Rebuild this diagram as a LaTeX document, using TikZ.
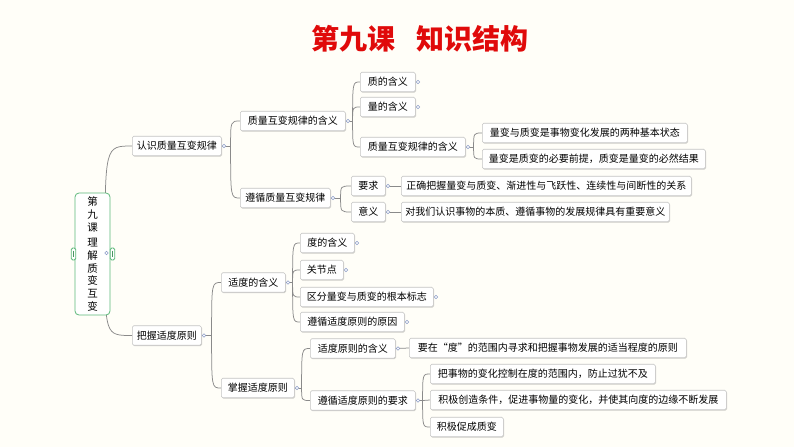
\documentclass[tikz,border=0pt]{standalone}
\usepackage{fontspec}
\setmainfont{Noto Sans CJK SC}
\usetikzlibrary{shadows}
\definecolor{bgcream}{HTML}{FFFEF8}
\definecolor{boxgray}{HTML}{C4C4C4}
\definecolor{conngray}{HTML}{8A8A8A}
\definecolor{knobblue}{HTML}{8C9CC8}
\definecolor{rootgreen}{HTML}{5DB97A}
\definecolor{titlered}{HTML}{E00A0A}
\pgfdeclarelayer{bg}
\pgfdeclarelayer{background}
\pgfsetlayers{bg,background,main}
\tikzset{
  topic/.style={draw=boxgray, line width=0.6pt, fill=white, rounded corners=1.5pt,
    minimum height=19.5pt, inner xsep=0pt, inner ysep=0pt, anchor=west,
    font=\fontsize{10}{12}\selectfont,
    drop shadow={shadow xshift=0.7pt, shadow yshift=-0.9pt, opacity=0.18, fill=black}},
  conn/.style={draw=conngray, line width=0.75pt},
  knob/.style={circle, draw=knobblue, fill=white, line width=0.6pt, inner sep=0pt, minimum size=3.6pt},
  handle/.style={draw=rootgreen, fill=white, line width=0.8pt, rounded corners=1.5pt,
    minimum width=4.5pt, minimum height=12pt, inner sep=0pt},
}
\newcommand{\kb}[1]{\node[knob] at ([xshift=2.4pt]#1.east) {};}
\newcommand{\br}[2]{\draw[conn] (#1) .. controls (#1 |- #2.west) .. (#2.west);}
\begin{document}
\begin{tikzpicture}[x=1pt, y=-1pt]
\useasboundingbox (0,0) rectangle (794,447);
\begin{pgfonlayer}{bg}
\fill[bgcream] (0,0) rectangle (794,447);
\end{pgfonlayer}

% title
\node[font=\fontsize{28}{30}\selectfont\bfseries, text=titlered] (title) at (420,39) {第九课\hspace{22pt}知识结构};

% root
\node[draw=rootgreen, line width=0.8pt, fill=white, rounded corners=4pt,
  minimum width=35pt, minimum height=122pt, inner sep=0pt, align=center,
  font=\fontsize{10.5}{12.7}\selectfont] (root) at (92.5,254)
  {第\\九\\课\\[3pt]理\\解\\质\\变\\互\\变};
\node[handle] (hl) at (73.5,254) {};
\node[handle] (hr) at (112.5,254) {};
\draw[rootgreen!80!black, line width=0.5pt] (hl.north) ++(0,3) -- ++(0,6);
\draw[rootgreen!80!black, line width=0.5pt] (hr.north) ++(0,3) -- ++(0,6);
\node[knob] (rk) at (106.5,253) {};

% level 1
\node[topic, minimum width=89pt] (A1) at (132,146) {认识质量互变规律};
\node[topic, minimum width=69pt] (A2) at (132,335.5) {把握适度原则};

% level 2
\node[topic, minimum width=105pt] (B1) at (240,121) {质量互变规律的含义};
\node[topic, minimum width=90pt] (B2) at (240,198) {遵循质量互变规律};
\node[topic, minimum width=64pt] (B3) at (221,282.5) {适度的含义};
\node[topic, minimum width=73pt] (B4) at (221,388) {掌握适度原则};

% level 3
\node[topic, minimum width=55pt] (C1) at (360,82) {质的含义};
\node[topic, minimum width=55pt] (C2) at (360,107) {量的含义};
\node[topic, minimum width=105pt] (C3) at (360,147) {质量互变规律的含义};
\node[topic, minimum width=34pt] (C4) at (351,186) {要求};
\node[topic, minimum width=34pt] (C5) at (351,212) {意义};
\node[topic, minimum width=54pt] (C6) at (300,243) {度的含义};
\node[topic, minimum width=43pt] (C7) at (300,270) {关节点};
\node[topic, minimum width=133pt] (C8) at (300,297) {区分量变与质变的根本标志};
\node[topic, minimum width=104pt] (C9) at (300,322) {遵循适度原则的原因};
\node[topic, minimum width=85pt] (C10) at (310,348.5) {适度原则的含义};
\node[topic, minimum width=105pt] (C11) at (310,400.5) {遵循适度原则的要求};

% level 4
\node[topic, minimum width=205pt] (D1) at (482,133) {量变与质变是事物变化发展的两种基本状态};
\node[topic, minimum width=223pt] (D2) at (482,159) {量变是质变的必要前提，质变是量变的必然结果};
\node[topic, minimum width=290pt] (D3) at (401,186) {正确把握量变与质变、渐进性与飞跃性、连续性与间断性的关系};
\node[topic, minimum width=268pt] (D4) at (401,212) {对我们认识事物的本质、遵循事物的发展规律具有重要意义};
\node[topic, minimum width=277pt] (D5) at (409,348) {要在“度”的范围内寻求和把握事物发展的适当程度的原则};
\node[topic, minimum width=225pt] (D6) at (430,374) {把事物的变化控制在度的范围内，防止过犹不及};
\node[topic, minimum width=296pt] (D7) at (430,400) {积极创造条件，促进事物量的变化，并使其向度的边缘不断发展};
\node[topic, minimum width=73pt] (D8) at (430,427) {积极促成质变};

% connectors
\begin{pgfonlayer}{background}
\coordinate (jR) at (105,253);
\br{jR}{A1} \br{jR}{A2}
\coordinate (jA1) at ([xshift=9pt]A1.east);
\draw[conn] (A1.east) -- (jA1); \br{jA1}{B1} \br{jA1}{B2}
\coordinate (jA2) at ([xshift=10pt]A2.east);
\draw[conn] (A2.east) -- (jA2); \br{jA2}{B3} \br{jA2}{B4}
\coordinate (jB1) at ([xshift=7pt]B1.east);
\draw[conn] (B1.east) -- (jB1); \br{jB1}{C1} \br{jB1}{C2} \br{jB1}{C3}
\coordinate (jB2) at ([xshift=10pt]B2.east);
\draw[conn] (B2.east) -- (jB2); \br{jB2}{C4} \br{jB2}{C5}
\coordinate (jB3) at ([xshift=7pt]B3.east);
\draw[conn] (B3.east) -- (jB3); \br{jB3}{C6} \br{jB3}{C7} \br{jB3}{C8} \br{jB3}{C9}
\coordinate (jB4) at ([xshift=7pt]B4.east);
\draw[conn] (B4.east) -- (jB4); \br{jB4}{C10} \br{jB4}{C11}
\coordinate (jC3) at ([xshift=8pt]C3.east);
\draw[conn] (C3.east) -- (jC3); \br{jC3}{D1} \br{jC3}{D2}
\draw[conn] (C4.east) -- (D3.west);
\draw[conn] (C5.east) -- (D4.west);
\draw[conn] (C10.east) -- (D5.west);
\coordinate (jC11) at ([xshift=7pt]C11.east);
\draw[conn] (C11.east) -- (jC11); \br{jC11}{D6} \draw[conn] (jC11) -- (D7.west); \br{jC11}{D8}
\end{pgfonlayer}

% knobs
\kb{A1} \kb{A2} \kb{B1} \kb{B2} \kb{B3} \kb{B4}
\kb{C1} \kb{C2} \kb{C3} \kb{C4} \kb{C5} \kb{C6} \kb{C7} \kb{C8} \kb{C9} \kb{C10} \kb{C11}
\end{tikzpicture}
\end{document}
